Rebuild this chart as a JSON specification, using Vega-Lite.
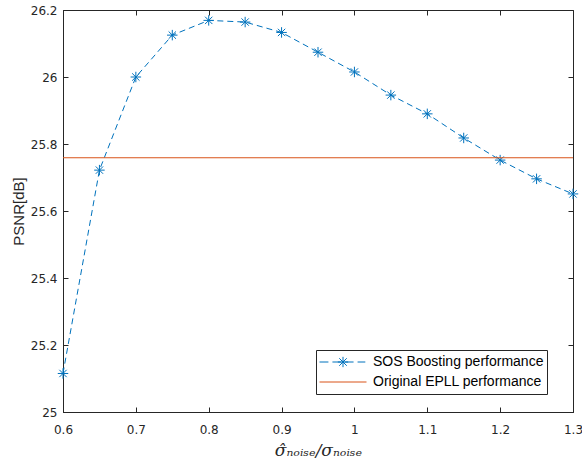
{
  "$schema": "https://vega.github.io/schema/vega-lite/v6.json",
  "width": 510,
  "height": 402,
  "padding": {"left": 63, "top": 10, "right": 9, "bottom": 52},
  "autosize": {"type": "none"},
  "background": "white",
  "config": {
    "view": {"stroke": "#262626", "strokeWidth": 1},
    "axis": {
      "grid": false,
      "domainColor": "#262626",
      "tickColor": "#262626",
      "labelColor": "#262626",
      "labelFont": "DejaVu Sans",
      "labelFontSize": 12,
      "titleColor": "#262626",
      "tickSize": -5
    }
  },
  "datasets": {
    "sos": [
      {"ratio": 0.6, "psnr": 25.115, "series": "SOS Boosting performance"},
      {"ratio": 0.65, "psnr": 25.722, "series": "SOS Boosting performance"},
      {"ratio": 0.7, "psnr": 26.0, "series": "SOS Boosting performance"},
      {"ratio": 0.75, "psnr": 26.125, "series": "SOS Boosting performance"},
      {"ratio": 0.8, "psnr": 26.169, "series": "SOS Boosting performance"},
      {"ratio": 0.85, "psnr": 26.164, "series": "SOS Boosting performance"},
      {"ratio": 0.9, "psnr": 26.133, "series": "SOS Boosting performance"},
      {"ratio": 0.95, "psnr": 26.074, "series": "SOS Boosting performance"},
      {"ratio": 1.0, "psnr": 26.015, "series": "SOS Boosting performance"},
      {"ratio": 1.05, "psnr": 25.946, "series": "SOS Boosting performance"},
      {"ratio": 1.1, "psnr": 25.89, "series": "SOS Boosting performance"},
      {"ratio": 1.15, "psnr": 25.818, "series": "SOS Boosting performance"},
      {"ratio": 1.2, "psnr": 25.752, "series": "SOS Boosting performance"},
      {"ratio": 1.25, "psnr": 25.696, "series": "SOS Boosting performance"},
      {"ratio": 1.3, "psnr": 25.651, "series": "SOS Boosting performance"}
    ],
    "epll": [
      {"psnr": 25.759, "series": "Original EPLL performance"}
    ]
  },
  "resolve": {"axis": {"x": "independent", "y": "independent"}},
  "layer": [
    {
      "data": {"name": "sos"},
      "mark": {"type": "line", "strokeWidth": 1, "strokeDash": [6, 4], "clip": true},
      "encoding": {
        "x": {
          "field": "ratio", "type": "quantitative",
          "scale": {"domain": [0.6, 1.3], "nice": false, "zero": false},
          "axis": {"orient": "bottom", "values": [0.6, 0.7, 0.8, 0.9, 1.0, 1.1, 1.2, 1.3], "labelExpr": "datum.value == 1 ? '1' : format(datum.value, '.1f')", "labelPadding": 17, "title": "σ̂ₙₒᵢₛₑ/σₙₒᵢₛₑ", "titleFont": "DejaVu Serif", "titleFontStyle": "italic", "titleFontWeight": "normal", "titleFontSize": 17, "titlePadding": 7, "labelFlush": false}
        },
        "y": {
          "field": "psnr", "type": "quantitative",
          "scale": {"domain": [25, 26.2], "nice": false, "zero": false},
          "axis": {"orient": "left", "values": [25, 25.2, 25.4, 25.6, 25.8, 26, 26.2], "format": "~g", "labelPadding": 11, "title": "PSNR[dB]", "titleFont": "Liberation Sans", "titleFontWeight": "normal", "titleFontSize": 15, "titlePadding": 4}
        },
        "color": {
          "field": "series", "type": "nominal",
          "scale": {"domain": ["SOS Boosting performance", "Original EPLL performance"], "range": ["#0072BD", "#D95319"]},
          "legend": {
            "title": null,
            "orient": "none",
            "legendX": 253,
            "legendY": 340,
            "direction": "vertical",
            "fillColor": "white",
            "strokeColor": "#262626",
            "padding": 3,
            "rowPadding": 2,
            "symbolSize": 2209,
            "clipHeight": 18,
            "symbolStrokeWidth": 1,
            "symbolOffset": 0,
            "labelOffset": 6,
            "labelFont": "Liberation Sans",
            "labelFontSize": 14,
            "labelColor": "#000000",
            "labelLimit": 300,
            "encode": {
              "symbols": {
                "update": {
                  "shape": [
                    {"test": "datum.value === 'SOS Boosting performance'", "value": "M-1,0H-0.62M-0.45,0H-0.07M0.07,0H0.45M0.62,0H0.95M-0.22,0H0.22M0,-0.22V0.22M-0.16,-0.16L0.16,0.16M-0.16,0.16L0.16,-0.16"},
                    {"value": "M-1,0H1"}
                  ],
                  "fill": {"value": "transparent"}
                }
              }
            }
          }
        }
      }
    },
    {
      "data": {"name": "sos"},
      "mark": {"type": "point", "shape": "M-1,0H1M0,-1V1M-0.7,-0.7L0.7,0.7M-0.7,0.7L0.7,-0.7", "filled": false, "size": 110, "strokeWidth": 1, "opacity": 1, "color": "#0072BD"},
      "encoding": {
        "x": {"field": "ratio", "type": "quantitative", "axis": null},
        "y": {"field": "psnr", "type": "quantitative", "axis": null}
      }
    },
    {
      "data": {"name": "epll"},
      "mark": {"type": "rule", "strokeWidth": 1.2},
      "encoding": {
        "y": {"field": "psnr", "type": "quantitative", "axis": null},
        "color": {"field": "series", "type": "nominal"}
      }
    },
    {
      "data": {"name": "sos"},
      "mark": {"type": "point", "opacity": 0},
      "encoding": {
        "x": {"field": "ratio", "type": "quantitative", "axis": {"orient": "top", "values": [0.6, 0.7, 0.8, 0.9, 1.0, 1.1, 1.2, 1.3], "labels": false, "title": null, "domain": false}},
        "y": {"field": "psnr", "type": "quantitative", "axis": {"orient": "right", "values": [25, 25.2, 25.4, 25.6, 25.8, 26, 26.2], "labels": false, "title": null, "domain": false}}
      }
    }
  ]
}
